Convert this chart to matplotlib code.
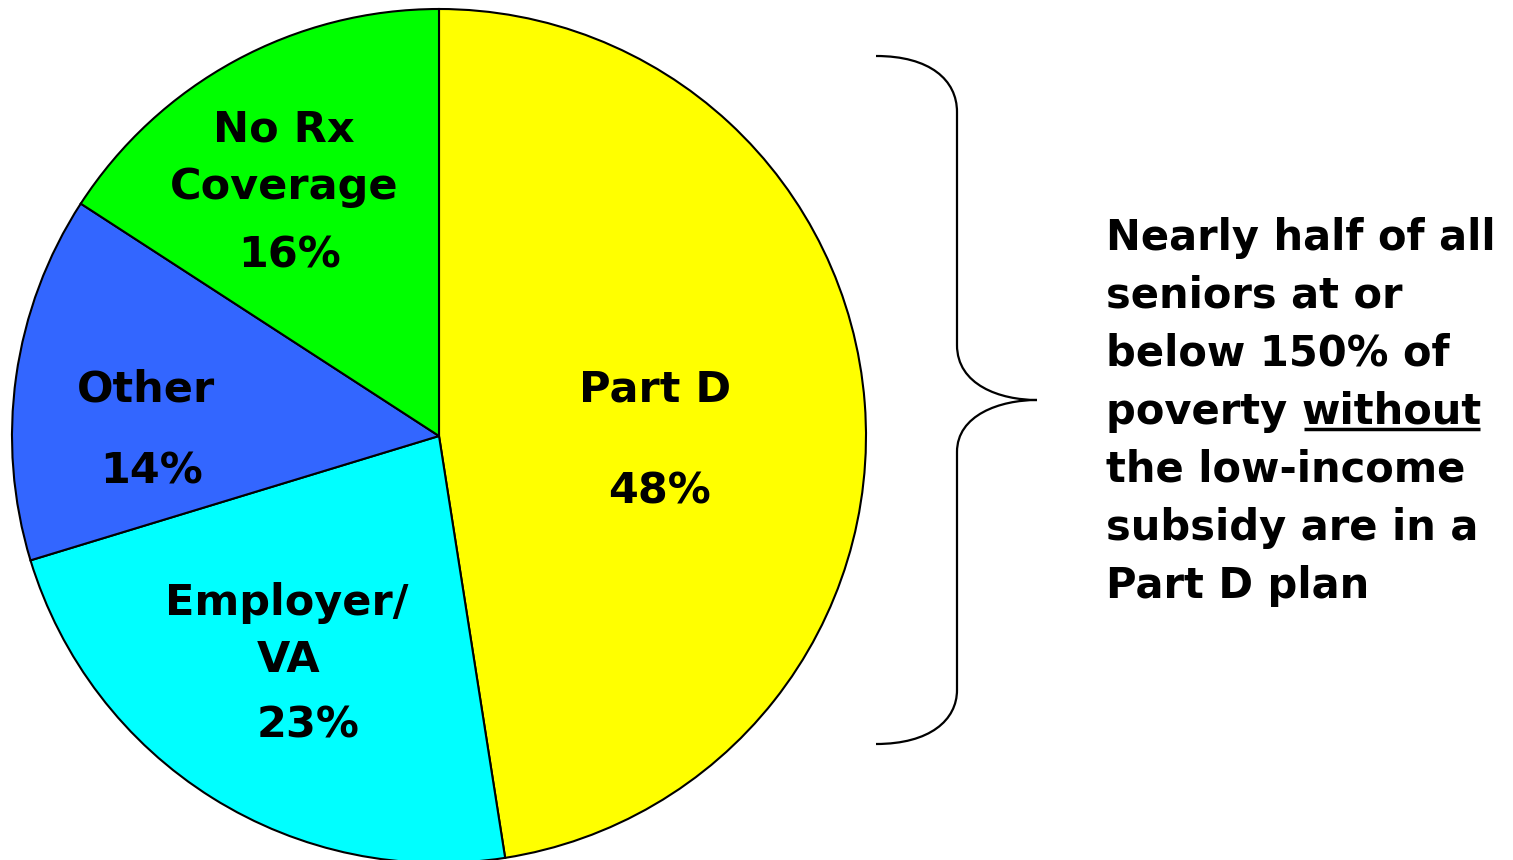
import matplotlib
matplotlib.use("Agg")
import matplotlib.pyplot as plt
from matplotlib.path import Path
from matplotlib.patches import PathPatch

# data
categories = ["Part D", "Employer/VA", "Other", "No Rx Coverage"]
shares = [48, 23, 14, 16]
colors = ["#FFFF00", "#00FFFF", "#3366FF", "#00FF00"]

# slice label lines (text, x px, baseline px)
label_lines = [
    ("Part D", 655, 402), ("48%", 660, 504),
    ("Employer/", 287, 615), ("VA", 289, 672), ("23%", 308, 737),
    ("Other", 146, 402), ("14%", 152, 483),
    ("No Rx", 284, 142), ("Coverage", 284, 199), ("16%", 290, 267),
]

note_lines = [
    "Nearly half of all",
    "seniors at or",
    "below 150% of",
    "poverty ",
    "the low-income",
    "subsidy are in a",
    "Part D plan",
]
underlined_word = "without"

W, H = 1513, 860
label_font = dict(family="DejaVu Sans", fontweight="bold", fontsize=31, color="black")
note_font = dict(family="DejaVu Sans", fontweight="bold", fontsize=30, color="black")

fig = plt.figure(figsize=(W / 100, H / 100), dpi=100)

# pie axes: center (439, 436), radius 427 px
cx, cy, r = 439, 436, 427
ax = fig.add_axes([(cx - r) / W, (H - cy - r) / H, 2 * r / W, 2 * r / H])
ax.pie(shares, colors=colors, startangle=90, counterclock=False,
       wedgeprops=dict(edgecolor="black", linewidth=1.5))
ax.set_xlim(-1, 1)
ax.set_ylim(-1, 1)
ax.set_aspect("equal")
ax.axis("off")

# overlay in pixel coordinates
ov = fig.add_axes([0, 0, 1, 1], zorder=5)
ov.set_xlim(0, W)
ov.set_ylim(H, 0)
ov.axis("off")
ov.patch.set_alpha(0)

for txt, x, y in label_lines:
    ov.text(x, y, txt, ha="center", va="baseline", **label_font)

# brace
verts = [
    (876, 56), (930, 56), (957, 80), (957, 112),
    (957, 345),
    (957, 385), (1000, 400), (1037, 400),
    (1000, 400), (957, 415), (957, 452),
    (957, 690),
    (957, 720), (930, 744), (876, 744),
]
codes = [Path.MOVETO, Path.CURVE4, Path.CURVE4, Path.CURVE4,
         Path.LINETO,
         Path.CURVE4, Path.CURVE4, Path.CURVE4,
         Path.CURVE4, Path.CURVE4, Path.CURVE4,
         Path.LINETO,
         Path.CURVE4, Path.CURVE4, Path.CURVE4]
ov.add_patch(PathPatch(Path(verts, codes), facecolor="none", edgecolor="black", linewidth=1.6))

# note text
x0, base0, step = 1106, 250, 58
handles = []
for i, line in enumerate(note_lines):
    handles.append(ov.text(x0, base0 + i * step, line, ha="left", va="baseline", **note_font))

fig.canvas.draw()
renderer = fig.canvas.get_renderer()
inv = ov.transData.inverted()
bb = handles[3].get_window_extent(renderer)
x_start = inv.transform((bb.x1, bb.y0))[0]
w_txt = ov.text(x_start, base0 + 3 * step, underlined_word, ha="left", va="baseline", **note_font)
fig.canvas.draw()
bb2 = w_txt.get_window_extent(renderer)
ux0 = inv.transform((bb2.x0, bb2.y0))[0]
ux1 = inv.transform((bb2.x1, bb2.y0))[0]
uy = base0 + 3 * step + 5
ov.plot([ux0 + 2, ux1 - 2], [uy, uy], color="black", linewidth=2.5, solid_capstyle="butt")

fig.savefig("out.png", dpi=100)
